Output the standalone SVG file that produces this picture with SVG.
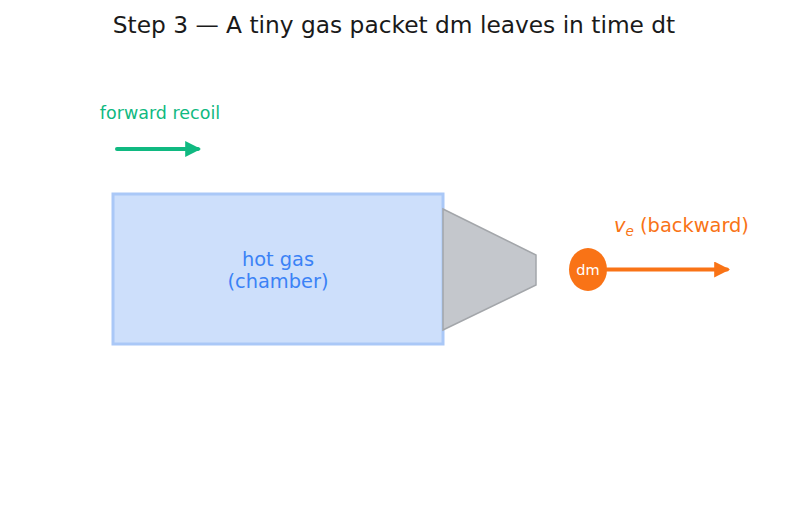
<svg xmlns="http://www.w3.org/2000/svg" width="787" height="510" viewBox="0 0 787 510">
<style>
text{font-family:"DejaVu Sans",sans-serif}
.title{font-size:23.3px;fill:#1a1a1a}
.lbl{font-size:19.4px;fill:#3b82f6;text-anchor:middle}
.orange{fill:#f97316}
.green{fill:#10b981}
</style>
<defs>
<marker id="ah-g" viewBox="0 0 10 10" refX="8" refY="5" markerWidth="4" markerHeight="4" orient="auto" markerUnits="strokeWidth"><path d="M0,0 L10,5 L0,10 Z" fill="#10b981"/></marker>
<marker id="ah-o" viewBox="0 0 10 10" refX="8" refY="5" markerWidth="4" markerHeight="4" orient="auto" markerUnits="strokeWidth"><path d="M0,0 L10,5 L0,10 Z" fill="#f97316"/></marker>
</defs>
<rect width="787" height="510" fill="#ffffff"/>
<text class="title" x="394" y="33" text-anchor="middle">Step 3 — A tiny gas packet dm leaves in time dt</text>
<g id="chamber">
<rect x="113" y="194" width="330" height="150" fill="#cddffb" stroke="#aac8f7" stroke-width="3"/>
<text class="lbl" x="278" y="266">hot gas</text>
<text class="lbl" x="278" y="288">(chamber)</text>
</g>
<g id="nozzle">
<polygon points="443,209 536,255 536,285 443,330" fill="#c4c7cc" stroke="#a3a6aa" stroke-width="1.5"/>
</g>
<g id="packet">
<ellipse cx="588" cy="269.5" rx="19" ry="21.5" fill="#f97316"/>
<text x="588" y="275" text-anchor="middle" font-size="14.5px" fill="#ffffff">dm</text>
</g>
<g id="ve-label">
<text class="orange" x="614" y="232" font-size="19.4px"><tspan font-style="italic">v</tspan><tspan font-style="italic" font-size="13.6px" dy="4">e</tspan><tspan dy="-4"> (backward)</tspan></text>
</g>
<g id="recoil-label">
<text class="green" x="160" y="119" text-anchor="middle" font-size="17.5px">forward recoil</text>
</g>
<g id="connectors">
<line x1="117" y1="149" x2="198" y2="149" stroke="#10b981" stroke-width="4" stroke-linecap="round" marker-end="url(#ah-g)"/>
<line x1="607" y1="269.5" x2="727" y2="269.5" stroke="#f97316" stroke-width="4" stroke-linecap="round" marker-end="url(#ah-o)"/>
</g>
</svg>
